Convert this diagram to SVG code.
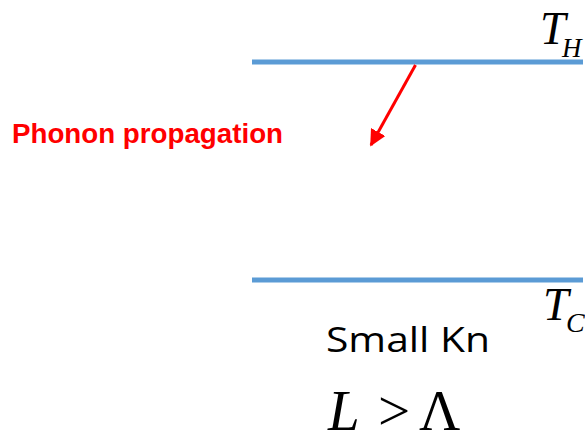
<svg xmlns="http://www.w3.org/2000/svg" width="585" height="434" viewBox="0 0 585 434">
<style>
.plate{stroke:#5b9bd5;stroke-width:5;fill:none}
.math{font-family:"Liberation Serif","Times New Roman",serif;fill:#000}
.it{font-style:italic}
</style>
<defs>
<marker id="ah" viewBox="0 0 10 10" refX="9" refY="5" markerWidth="5.5" markerHeight="5.5" orient="auto" markerUnits="strokeWidth">
<path d="M0,0 L10,5 L0,10 z" fill="#ff0000"/>
</marker>
</defs>
<rect width="585" height="434" fill="#fff"/>
<g id="hot-plate">
<line class="plate" x1="252" y1="62" x2="583" y2="62"/>
<text class="math it" x="540" y="44" font-size="46">T</text>
<text class="math it" x="562" y="57" font-size="27">H</text>
</g>
<g id="cold-plate">
<line class="plate" x1="252" y1="280" x2="583" y2="280"/>
<text class="math it" x="543" y="320" font-size="46">T</text>
<text class="math it" x="566" y="332" font-size="28">C</text>
</g>
<g id="label">
<text x="12" y="143" font-family="Liberation Sans, Arial, sans-serif" font-weight="bold" font-size="27" fill="#ff0000" textLength="271" lengthAdjust="spacingAndGlyphs">Phonon propagation</text>
</g>
<g id="regime">
<text x="326" y="352" font-family="Open Sans, Liberation Sans, sans-serif" font-size="34" fill="#000" textLength="164" lengthAdjust="spacingAndGlyphs">Small Kn</text>
<text class="math it" x="328" y="430" font-size="57">L</text>
<text class="math" x="378" y="430" font-size="57">&gt;</text>
<text class="math" x="419" y="430" font-size="57">Λ</text>
</g>
<g id="connectors">
<line x1="415.5" y1="65" x2="371" y2="145" stroke="#ff0000" stroke-width="3" marker-end="url(#ah)"/>
</g>
</svg>
